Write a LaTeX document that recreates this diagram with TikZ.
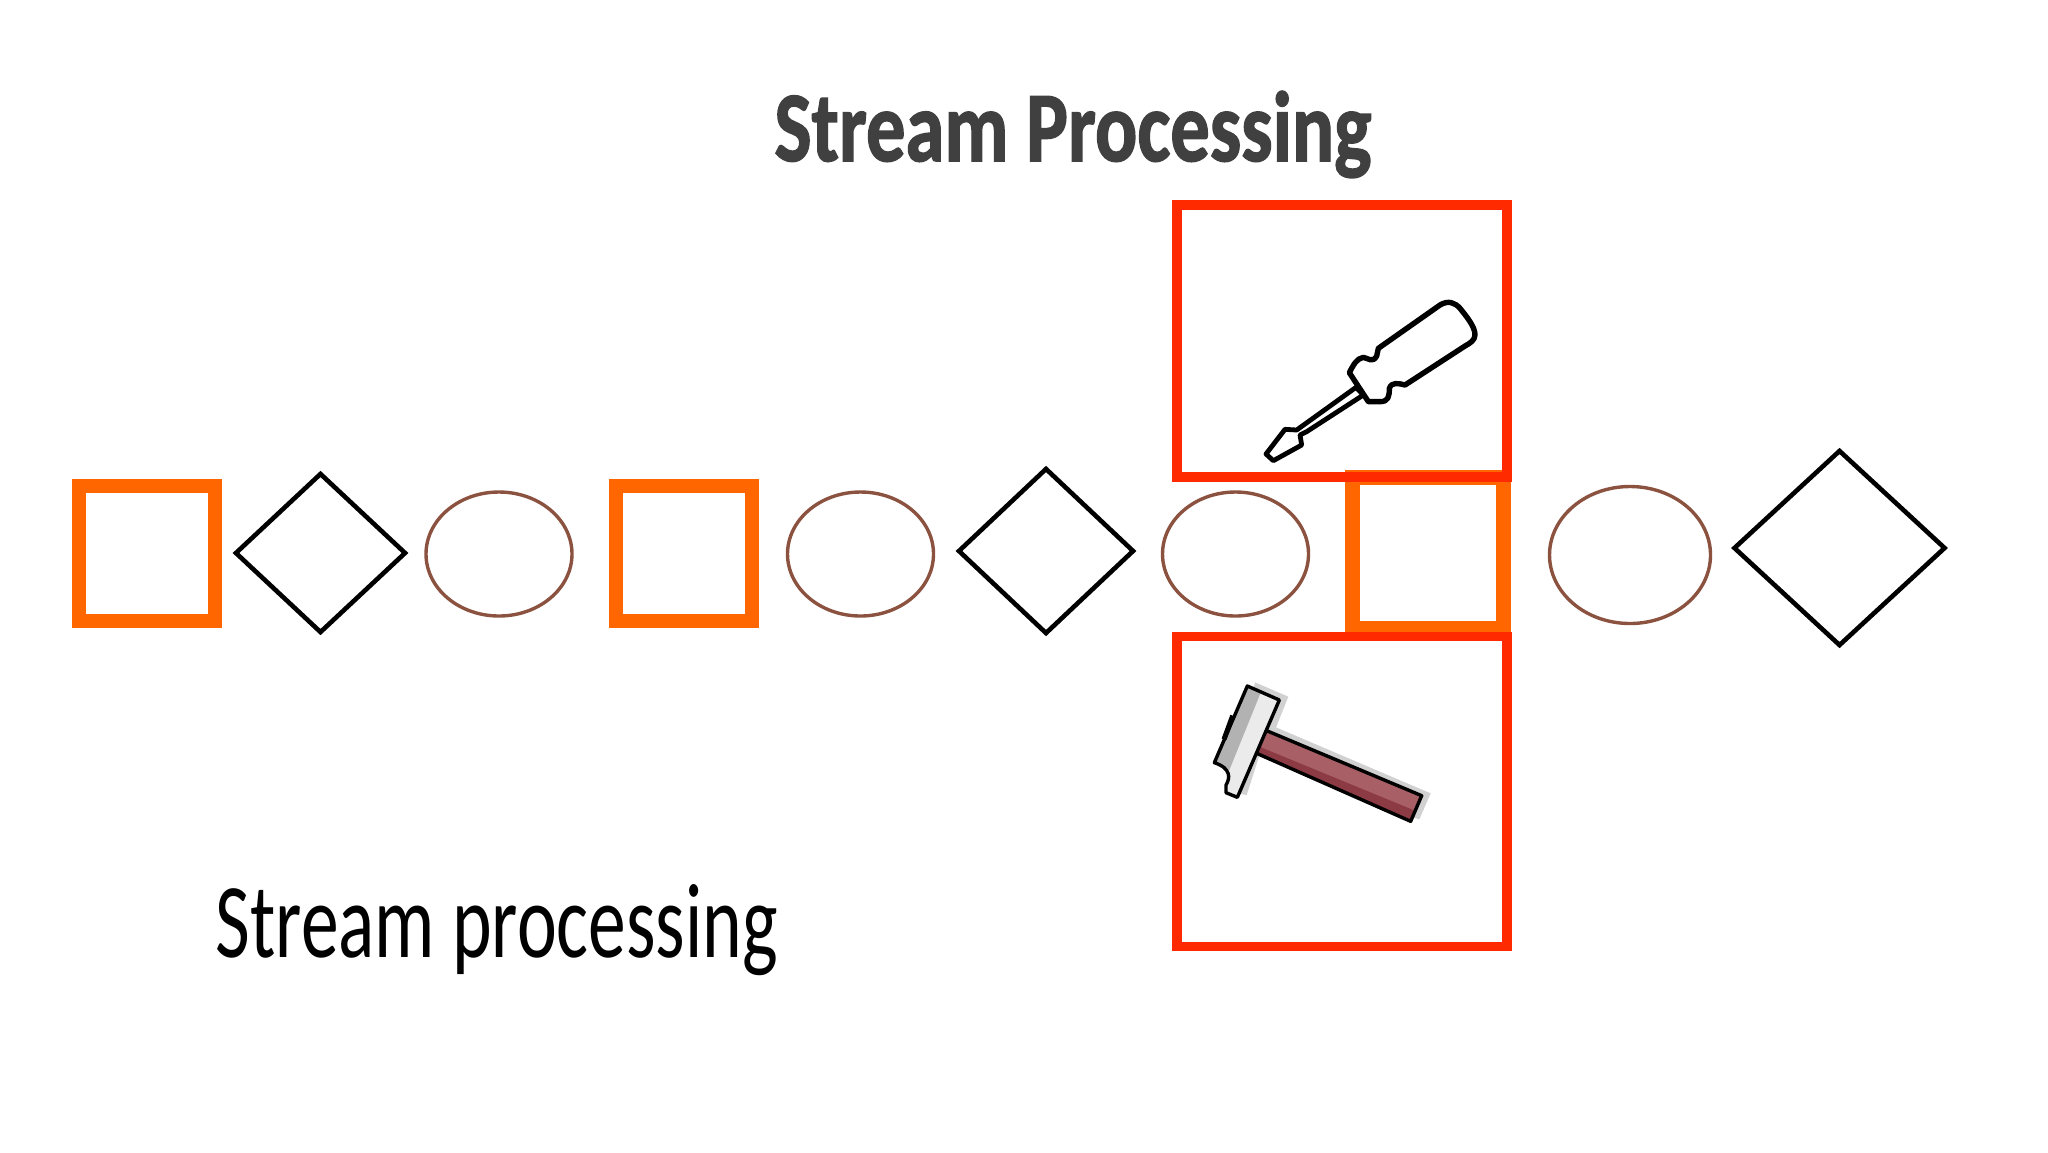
\documentclass[tikz,border=0pt]{standalone}
\usepackage{fontspec}
\setmainfont{Carlito}
\newfontfamily\titlefont[FakeBold=1.6]{Carlito Bold}
\usetikzlibrary{shapes.geometric}
\definecolor{boxorange}{HTML}{FF6600}
\definecolor{boxred}{HTML}{FF2A00}
\definecolor{ovalbrown}{HTML}{8C5240}
\definecolor{titlegray}{HTML}{404040}
\definecolor{handlelight}{HTML}{A85F66}
\definecolor{handledark}{HTML}{8C3A43}
\tikzset{
	orangebox/.style={shape=rectangle,draw=boxorange,line width=7pt,minimum width=68pt,minimum height=67.5pt,inner sep=0pt},
	toolbox/.style={shape=rectangle,draw=boxred,line width=4.65pt,minimum width=165pt,inner sep=0pt},
	gem/.style={shape=diamond,draw=black,line width=2.3pt,inner sep=0pt,miter limit=10},
	oval/.style={shape=ellipse,draw=ovalbrown,line width=1.7pt,inner sep=0pt,minimum width=73pt,minimum height=62pt},
	toolline/.style={draw=black,line width=2.4pt,line join=round},
}
\begin{document}
\begin{tikzpicture}[x=0.5pt,y=-0.5pt]
	\useasboundingbox (0,0) rectangle (2048,1152);
	\node (title) [anchor=base west,inner sep=0pt,text=titlegray] at (774,161) {\resizebox{298.5pt}{35pt}{\titlefont Stream Processing}};
	\node (caption) [anchor=base west,inner sep=0pt] at (215.5,957) {\resizebox{281pt}{36.5pt}{Stream processing}};

	\node (first) [orangebox] at (147,553.5) {};
	\node (second) [gem,minimum width=85.5pt,minimum height=80pt] at (320.5,553) {};
	\node (third) [oval] at (499,554) {};
	\node (fourth) [orangebox] at (684,553.5) {};
	\node (fifth) [oval] at (860.5,554) {};
	\node (sixth) [gem,minimum width=88pt,minimum height=83pt] at (1046,551) {};
	\node (seventh) [oval] at (1235.5,554) {};
	\node (eighth) [orangebox,line width=7.25pt,minimum width=75.5pt,minimum height=75.5pt] at (1428,553) {};
	\node (ninth) [oval,minimum width=80.5pt,minimum height=68.5pt] at (1630,555) {};
	\node (tenth) [gem,minimum width=106pt,minimum height=98pt] at (1839.5,548) {};

	\node (upper) [toolbox,minimum height=136pt] at (1342,341) {};
	\node (lower) [toolbox,minimum height=155pt] at (1342,791.5) {};

	\begin{scope}[shift={(1150,180)},scale=1/3]
		\draw[toolline,fill=white] (348,822) -- (405,748) -- (440,750) -- (618,622) -- (640,645) -- (470,755) -- (450,765) -- (455,795) -- (370,842) -- cycle;
		\draw[toolline,fill=white,line width=2.7pt] (598,578) .. controls (610,555) and (620,535) .. (640,532)
			.. controls (655,535) and (668,550) .. (680,528) -- (685,505) -- (870,375)
			.. controls (895,360) and (915,368) .. (930,385)
			.. controls (950,410) and (975,440) .. (975,465)
			.. controls (975,480) and (960,490) .. (945,498) -- (765,615)
			.. controls (745,610) and (725,605) .. (718,625)
			.. controls (718,650) and (715,665) .. (690,665) -- (655,665) -- cycle;
	\end{scope}

	\begin{scope}[shift={(1150,620)},scale=1/3]
		\fill[black!18] (315,187) -- (415,230) -- (378,322) -- (842,520) -- (808,598) -- (780,590) -- (330,400) -- (290,525) -- (262,520) -- (250,470) -- cycle;
		\fill[handlelight] (350,332) -- (815,527) -- (782,604) -- (320,400) -- cycle;
		\fill[handledark] (328,380) -- (790,570) -- (782,604) -- (320,400) -- cycle;
		\draw[toolline,line width=1.7pt] (350,332) -- (815,527) -- (782,604) -- (320,400);
		\fill[black!8] (292,198) -- (388,240) -- (262,532) -- (228,518) -- (228,495) .. controls (240,475) and (245,445) .. (193,428) -- cycle;
		\fill[black!30] (292,198) -- (332,218) -- (238,450) .. controls (225,440) and (210,435) .. (193,428) -- cycle;
		\draw[toolline,line width=1.7pt] (292,198) -- (388,240) -- (262,532) -- (228,518) -- (228,495) .. controls (240,475) and (245,445) .. (193,428) -- cycle;
		\draw[line width=2.5pt] (248,287) -- (222,358);
	\end{scope}
\end{tikzpicture}
\end{document}
